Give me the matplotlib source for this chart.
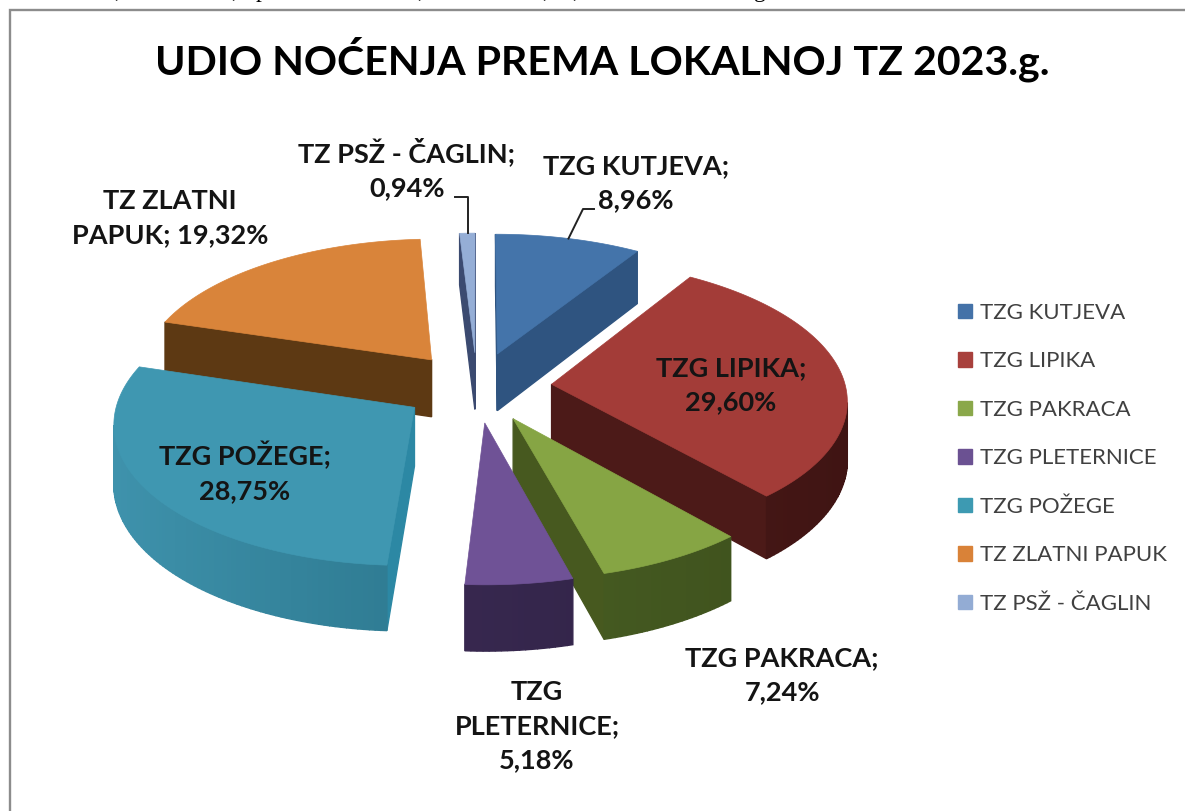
import numpy as np
import matplotlib
matplotlib.use('Agg')
import matplotlib.pyplot as plt
from matplotlib.patches import Patch
from matplotlib.colors import to_rgb

names = ['TZG KUTJEVA', 'TZG LIPIKA', 'TZG PAKRACA', 'TZG PLETERNICE',
         'TZG POŽEGE', 'TZ ZLATNI PAPUK', 'TZ PSŽ - ČAGLIN']
shares = [8.96, 29.60, 7.24, 5.18, 28.75, 19.32, 0.94]
label_names = ['TZG KUTJEVA;', 'TZG LIPIKA;', 'TZG PAKRACA;', 'TZG\nPLETERNICE;',
               'TZG POŽEGE;', 'TZ ZLATNI\nPAPUK;', 'TZ PSŽ - ČAGLIN;']
label_seps = ['\n', '\n', '\n', '\n', '\n', ' ', '\n']
title = 'UDIO NOĆENJA PREMA LOKALNOJ TZ 2023.g.'

# styles
top_cols = ['#4474aa', '#a33c38', '#86a544', '#6f5296', '#3f97b1', '#d9843a', '#95aed6']
edge_cols = ['#2f5480', '#4c1a18', '#47591f', '#3a2a52', '#2c88a4', '#5d3913', '#3b4a70']
rim_a = ['#2f5480', '#5a1f1d', '#506a28', '#3f2d5a', '#3f93ad', '#5d3913', '#3b4a70']
rim_b = ['#2f5480', '#3f1413', '#3d4f1c', '#2e2142', '#1f6478', '#5d3913', '#3b4a70']
legend_cols = ['#4472a8', '#a8403c', '#8aa84a', '#6b5192', '#3d9ab2', '#d98238', '#93acd4']
label_pos = [(636, 183), (731, 385), (782, 675), (537, 726), (245, 472), (170, 218), (407, 169)]

# projection of the tilted pie onto the page
cx, cy = 477, 387
R, bR, a, wall = 294, 138, 0.1, 58
explode = 0.255


def proj(u, v, z=0):
    s = 1 / (1 + a * v)
    return cx + R * u * s, cy - bR * v * s + wall * z * s


plt.close('all')
fig = plt.figure(figsize=(11.85, 8.11), dpi=100)
ax = fig.add_axes([0, 0, 1, 1])
ax.set_xlim(0, 1185)
ax.set_ylim(811, 0)
ax.axis('off')

# chart frame
ax.plot([10, 10, 1185], [811, 10, 10], color='#8c8c8c', lw=1.7, solid_joinstyle='miter')

# descenders of the line of text cut off at the top of the screenshot
for x, ch in [(117, ','), (234, ','), (261, 'p'), (420, ','), (545, ','), (575, ','), (760, 'g')]:
    ax.text(x, -3, ch, family='Liberation Serif', fontsize=17, ha='center', va='baseline', color='black')

ax.text(602, 75, title, family='Lato', weight='bold', fontsize=29.6, ha='center', va='baseline', color='black')

edges = np.concatenate([[0], np.cumsum(shares)]) / np.sum(shares) * 2 * np.pi
order = [0, 6, 5, 1, 4, 2, 3]


def wall_quad(p, q, col):
    pts = [proj(*p), proj(*q), proj(*q, 1), proj(*p, 1)]
    if pts[1][0] < pts[0][0]:
        ax.fill([c[0] for c in pts], [c[1] for c in pts], color=col, lw=1, zorder=2)


for i in order:
    t = np.linspace(edges[i], edges[i + 1], max(3, int(np.degrees(edges[i + 1] - edges[i])) + 1))
    mid = (edges[i] + edges[i + 1]) / 2
    ou, ov = explode * np.sin(mid), explode * np.cos(mid)
    us, vs = ou + np.sin(t), ov + np.cos(t)
    wall_quad((ou, ov), (us[0], vs[0]), edge_cols[i])
    wall_quad((us[-1], vs[-1]), (ou, ov), edge_cols[i])
    ca, cb = np.array(to_rgb(rim_a[i])), np.array(to_rgb(rim_b[i]))
    for j in range(len(t) - 2, -1, -1):
        # rim shading runs from the front right side over to the front left
        f = np.clip((np.sin(t[j]) * -1 + 1) / 2, 0, 1)
        wall_quad((us[j], vs[j]), (us[j + 1], vs[j + 1]), cb + (ca - cb) * f)
    X, Y = proj(np.r_[ou, us], np.r_[ov, vs])
    ax.fill(X, Y, color=top_cols[i], lw=0.5, zorder=2)
    txt = label_names[i] + label_seps[i] + ('%.2f%%' % shares[i]).replace('.', ',')
    ax.text(*label_pos[i], txt, family='Lato', weight='bold', fontsize=19.5, ha='center', va='center',
            linespacing=1.5, color='#141414', zorder=5)

# leader lines
um = 0.5 * edges[0] + 0.5 * edges[1]
mid0 = edges[1] / 2
lx, ly = proj(explode * np.sin(mid0) + np.sin(um), explode * np.cos(mid0) + np.cos(um))
ax.plot([lx, 583, 594], [ly, 209, 209], color='#222222', lw=1.4, zorder=3)
mid6 = (edges[6] + edges[7]) / 2
lx, ly = proj(explode * np.sin(mid6) + np.sin(mid6), explode * np.cos(mid6) + np.cos(mid6))
ax.plot([468, 468, 455], [ly, 197, 197], color='#222222', lw=1.4, zorder=3)

handles = [Patch(color=c, label=n) for c, n in zip(legend_cols, names)]
prop = {'family': 'Lato', 'size': 16}
leg = ax.legend(handles=handles, loc='upper left', bbox_to_anchor=(958 / 1185, 1 - 303 / 811),
                frameon=False, prop=prop, handlelength=0.63, handleheight=0.63, handletextpad=0.35,
                labelspacing=1.28, labelcolor='#404040', borderpad=0, borderaxespad=0)

fig.savefig('out.png', dpi=100)
